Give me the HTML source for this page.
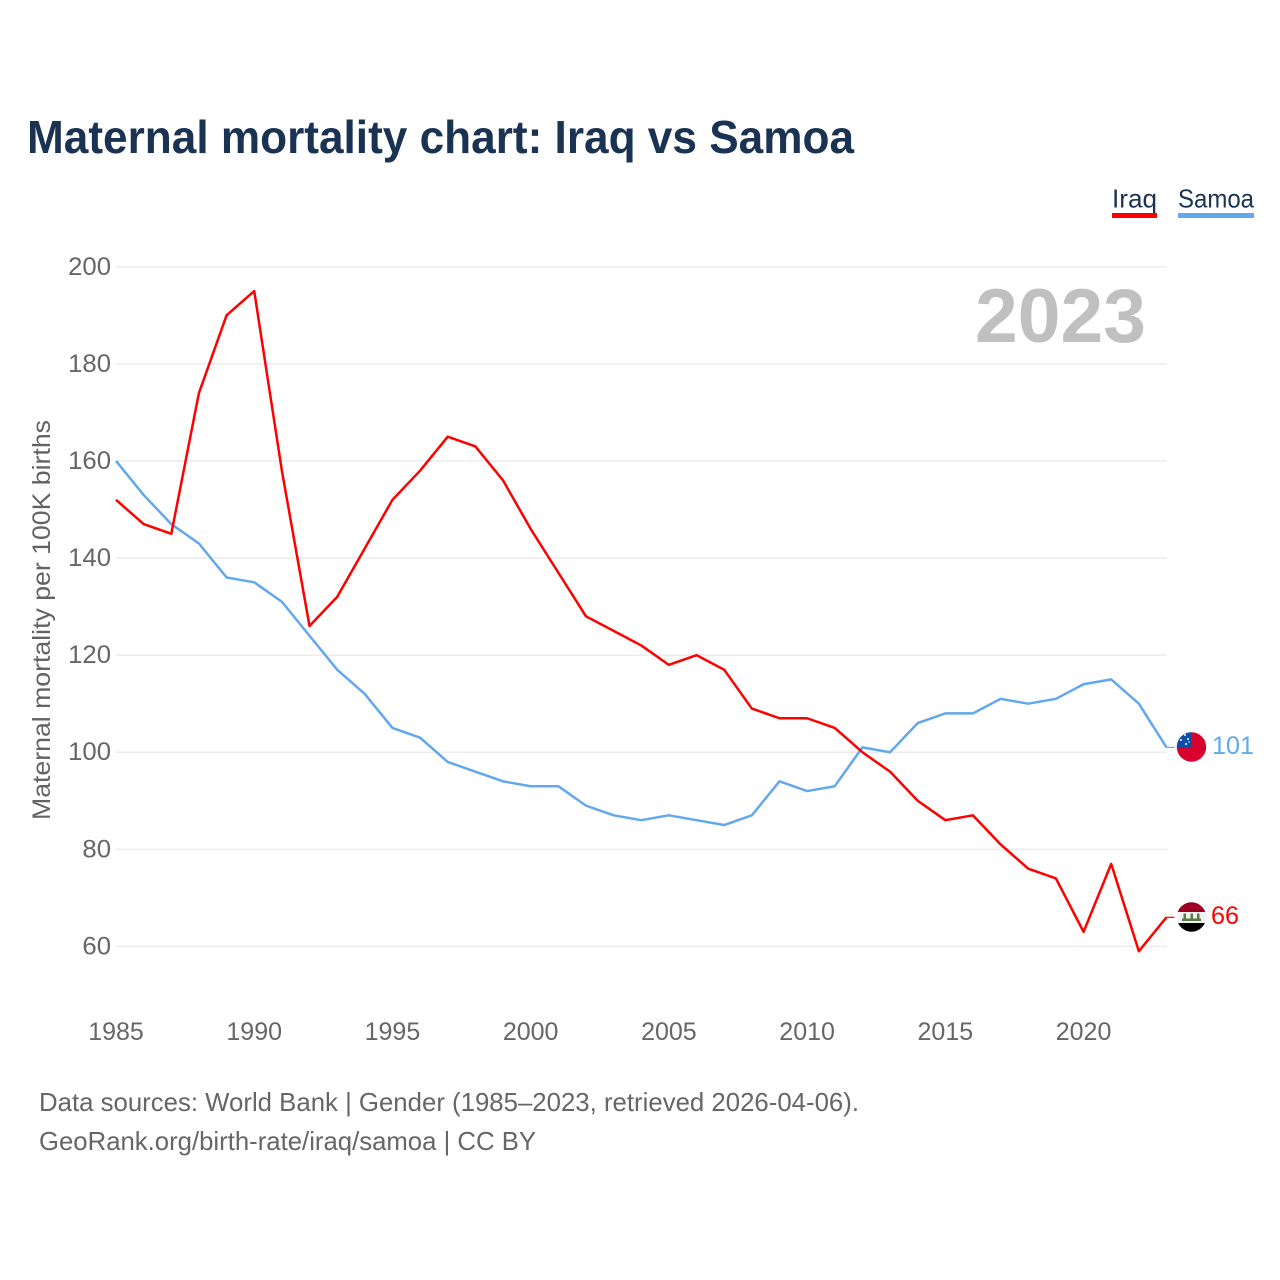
<!DOCTYPE html>
<html lang="en">
<head>
<meta charset="utf-8">
<title>Maternal mortality chart: Iraq vs Samoa</title>
<style>
html,body{margin:0;padding:0;background:#fff;}
svg{display:block;font-family:"Liberation Sans",sans-serif;}
</style>
</head>
<body>
<svg id="chart" width="1280" height="1280" viewBox="0 0 1280 1280" xmlns="http://www.w3.org/2000/svg">
  <rect x="0" y="0" width="1280" height="1280" fill="#fff"/>
  <text x="27" y="153" font-size="46" font-weight="700" fill="#1a3352" textLength="827" lengthAdjust="spacingAndGlyphs">Maternal mortality chart: Iraq vs Samoa</text>

  <g>
    <g>
      <text x="1112" y="207.5" font-size="26" fill="#1a3352" textLength="45" lengthAdjust="spacingAndGlyphs">Iraq</text>
      <rect x="1112" y="213" width="45" height="5" fill="#ff0000"/>
    </g>
    <g>
      <text x="1178" y="207.5" font-size="26" fill="#1a3352" textLength="76" lengthAdjust="spacingAndGlyphs">Samoa</text>
      <rect x="1178" y="213" width="76" height="5" fill="#62a8ee"/>
    </g>
  </g>

  <g id="grid"></g>
  <g id="yticks"></g>
  <g id="xticks"></g>

  <text transform="translate(50,620) rotate(-90)" text-anchor="middle" font-size="25" fill="#636363" textLength="400" lengthAdjust="spacingAndGlyphs">Maternal mortality per 100K births</text>
  <text x="1146" y="342" text-anchor="end" font-size="76" font-weight="700" fill="#c0c0c0" textLength="171" lengthAdjust="spacingAndGlyphs">2023</text>

  <g id="series"></g>

  <defs>
    <clipPath id="clip-samoa"><circle cx="1191.5" cy="747" r="14.7"/></clipPath>
    <clipPath id="clip-iraq"><circle cx="1191.5" cy="917" r="14.7"/></clipPath>
  </defs>

  <g clip-path="url(#clip-samoa)">
    <rect x="1176" y="732" width="31" height="30" fill="#d8002c"/>
    <rect x="1176" y="732" width="15.5" height="15" fill="#0f4ea6"/>
    <circle cx="1185" cy="735" r="1" fill="#fff"/>
    <circle cx="1181" cy="740" r="1" fill="#fff"/>
    <circle cx="1188" cy="739" r="1" fill="#fff"/>
    <circle cx="1186" cy="744" r="1" fill="#fff"/>
    <circle cx="1189" cy="742" r="0.7" fill="#fff"/>
  </g>
  <g clip-path="url(#clip-iraq)">
    <rect x="1176" y="902" width="31" height="10" fill="#9c0024"/>
    <rect x="1176" y="912" width="31" height="11" fill="#f2f2f2"/>
    <rect x="1176" y="923" width="31" height="9" fill="#000"/>
    <rect x="1182" y="918.5" width="19" height="2.5" fill="#5b7a45"/>
    <rect x="1183.5" y="913.5" width="2.5" height="5" fill="#5b7a45"/>
    <rect x="1190.5" y="913.5" width="2.5" height="5" fill="#5b7a45"/>
    <rect x="1197" y="913.5" width="2.5" height="5" fill="#5b7a45"/>
  </g>

  <text x="1212" y="754" font-size="25" fill="#62a8ee" textLength="42" lengthAdjust="spacingAndGlyphs">101</text>
  <text x="1211" y="924" font-size="25" fill="#ff0000" textLength="28" lengthAdjust="spacingAndGlyphs">66</text>

  <text x="39" y="1111" font-size="26" fill="#666" textLength="820" lengthAdjust="spacingAndGlyphs">Data sources: World Bank | Gender (1985–2023, retrieved 2026-04-06).</text>
  <text x="39" y="1150" font-size="26" fill="#666" textLength="497" lengthAdjust="spacingAndGlyphs">GeoRank.org/birth-rate/iraq/samoa | CC BY</text>
</svg>
<script>
const years = [1985,1986,1987,1988,1989,1990,1991,1992,1993,1994,1995,1996,1997,1998,1999,2000,2001,2002,2003,2004,2005,2006,2007,2008,2009,2010,2011,2012,2013,2014,2015,2016,2017,2018,2019,2020,2021,2022,2023];
const iraqValues = [152,147,145,174,190,195,158,126,132,142,152,158,165,163,156,146,137,128,125,122,118,120,117,109,107,107,105,100,96,90,86,87,81,76,74,63,77,59,66];
const samoaValues = [160,153,147,143,136,135,131,124,117,112,105,103,98,96,94,93,93,89,87,86,87,86,85,87,94,92,93,101,100,106,108,108,111,110,111,114,115,110,101];
const yTickValues = [60,80,100,120,140,160,180,200];
const xTickValues = [1985,1990,1995,2000,2005,2010,2015,2020];

const NS = 'http://www.w3.org/2000/svg';
function xScale(year) { return 116 + (year - 1985) * (1166.5 - 116) / (2023 - 1985); }
function yScale(value) { return 266.8 + (200 - value) * (946.4 - 266.8) / (200 - 60); }

const gridGroup = document.getElementById('grid');
const yTickGroup = document.getElementById('yticks');
const xTickGroup = document.getElementById('xticks');
const seriesGroup = document.getElementById('series');

yTickValues.forEach(function (tick) {
  const line = document.createElementNS(NS, 'line');
  
  
  line.setAttribute('x1', 116);
  line.setAttribute('x2', 1167);
  line.setAttribute('y1', yScale(tick));
  line.setAttribute('y2', yScale(tick));
  line.setAttribute('stroke', '#ececec');
  line.setAttribute('stroke-width', '1.5');
  gridGroup.appendChild(line);

  const label = document.createElementNS(NS, 'text');
  
  
  label.setAttribute('x', 111);
  label.setAttribute('y', yScale(tick) + 8);
  label.setAttribute('text-anchor', 'end');
  label.setAttribute('font-size', '25');
  label.setAttribute('fill', '#666');
  label.setAttribute('textLength', String(tick).length * 14.3);
  label.setAttribute('lengthAdjust', 'spacingAndGlyphs');
  label.textContent = tick;
  yTickGroup.appendChild(label);
});

xTickValues.forEach(function (tick) {
  const label = document.createElementNS(NS, 'text');
  
  
  label.setAttribute('x', xScale(tick));
  label.setAttribute('y', 1040);
  label.setAttribute('text-anchor', 'middle');
  label.setAttribute('font-size', '25');
  label.setAttribute('fill', '#666');
  label.textContent = tick;
  xTickGroup.appendChild(label);
});

function drawSeries(values, color, name) {
  const pts = values.map(function (v, i) { return xScale(years[i]).toFixed(2) + ',' + yScale(v).toFixed(2); });
  const path = document.createElementNS(NS, 'polyline');
  
  
  path.setAttribute('points', pts.join(' '));
  path.setAttribute('fill', 'none');
  path.setAttribute('stroke', color);
  path.setAttribute('stroke-width', '2.5');
  path.setAttribute('stroke-linejoin', 'round');
  seriesGroup.appendChild(path);

  const endX = xScale(years[years.length - 1]);
  const endY = yScale(values[values.length - 1]);
  const stub = document.createElementNS(NS, 'line');
  
  
  stub.setAttribute('x1', endX);
  stub.setAttribute('x2', endX + 8);
  stub.setAttribute('y1', endY);
  stub.setAttribute('y2', endY);
  stub.setAttribute('stroke', color);
  stub.setAttribute('stroke-width', '1.2');
  seriesGroup.appendChild(stub);
}
drawSeries(samoaValues, '#62a8ee', 'samoa-line');
drawSeries(iraqValues, '#ff0000', 'iraq-line');
</script>
</body>
</html>
